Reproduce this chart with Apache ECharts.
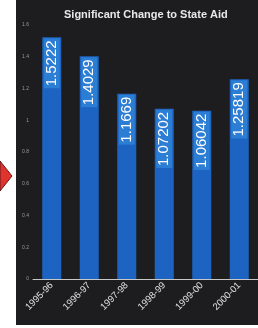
<!DOCTYPE html>
<html>
<head>
<meta charset="utf-8">
<script src="https://cdn.jsdelivr.net/npm/echarts@6/dist/echarts.min.js"></script>
<style>
  html, body { margin: 0; padding: 0; background: #fff; }
  #aidChart { width: 258px; height: 328px; }
</style>
</head>
<body>
<div id="aidChart"></div>
<script>
var years = ['1995-96', '1996-97', '1997-98', '1998-99', '1999-00', '2000-01'];
var aidChange = [1.5222, 1.4029, 1.1669, 1.07202, 1.06042, 1.25819];
var yTicks = [0, 0.2, 0.4, 0.6, 0.8, 1, 1.2, 1.4, 1.6];

var option = {
    backgroundColor: 'transparent',
    animation: false,
    graphic: [
        {
            type: 'rect',
            z: -10,
            shape: { x: 16, y: 0, width: 242, height: 325 },
            style: { fill: '#1d1d1f' }
        },
        {
            type: 'polygon',
            shape: { points: [[0, 161], [12, 176], [0, 191]] },
            style: { fill: '#e2342f', stroke: '#5a1a18', lineWidth: 1 }
        }
    ],
    title: {
        left: 59,
        top: 4,
        text: 'Significant Change to State Aid',
        textStyle: {
            color: '#e8e8e8',
            fontSize: 11,
            fontFamily: 'Arial',
            fontWeight: 'bold'
        }
    },
    grid: {
        left: 33,
        right: -1,
        top: 25,
        bottom: 49
    },
    yAxis: {
        type: 'value',
        min: yTicks[0],
        max: yTicks[yTicks.length - 1],
        interval: 0.2,
        splitLine: { show: false },
        axisLine: { show: false },
        axisTick: { show: false },
        axisLabel: {
            color: '#9a9a9a',
            fontSize: 5,
            margin: 4
        }
    },
    xAxis: {
        type: 'category',
        data: years,
        axisLine: { lineStyle: { color: '#c8c8c8', width: 1 } },
        axisTick: { show: false },
        axisLabel: {
            interval: 0,
            rotate: 45,
            color: '#e2e2e2',
            fontSize: 9.5,
            fontFamily: 'Arial',
            margin: 5
        }
    },
    series: [
        {
            name: 'State Aid',
            type: 'bar',
            data: aidChange,
            barWidth: 19,
            itemStyle: { color: '#1d64c2' },
            label: {
                show: true,
                position: 'insideTop',
                rotate: 90,
                align: 'right',
                verticalAlign: 'middle',
                distance: 1,
                color: '#ffffff',
                fontSize: 15,
                fontFamily: 'Arial',
                backgroundColor: '#2c7dd4',
                padding: [1, 2, 0, 2],
                formatter: function (p) { return String(p.value); }
            }
        }
    ]
};
var myChart = echarts.init(document.getElementById('aidChart'));
myChart.setOption(option);
</script>
</body>
</html>
